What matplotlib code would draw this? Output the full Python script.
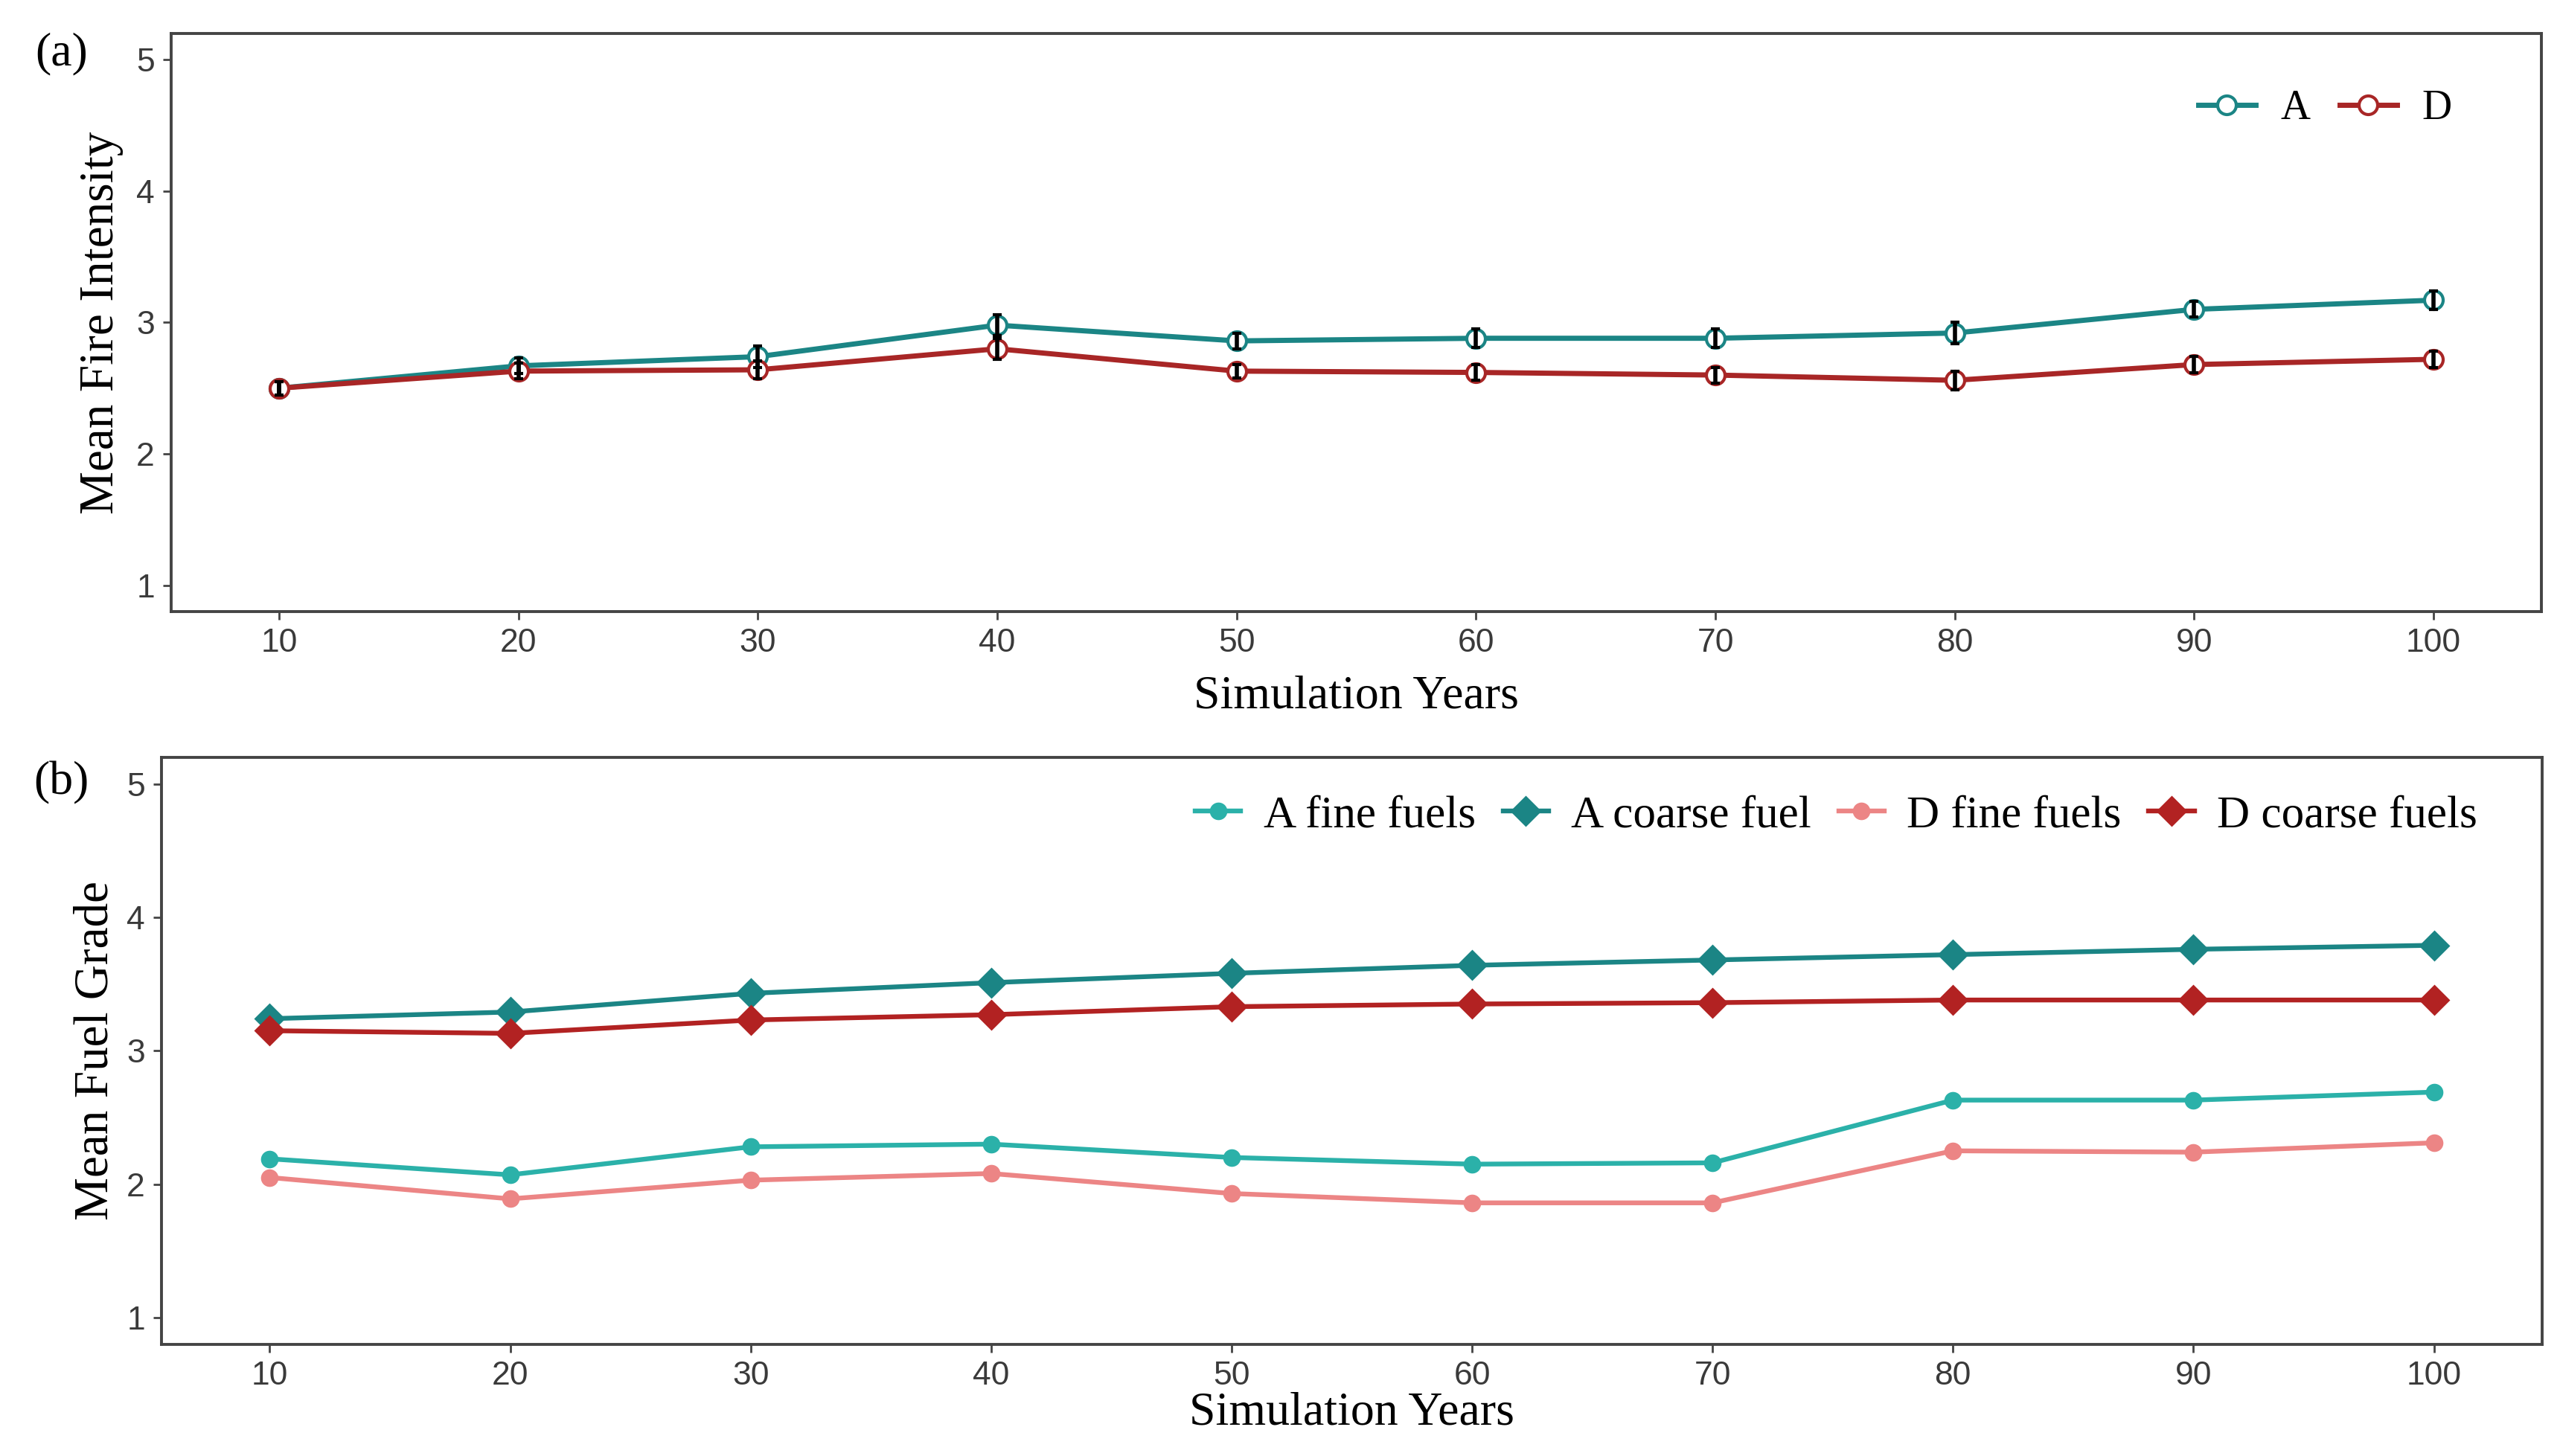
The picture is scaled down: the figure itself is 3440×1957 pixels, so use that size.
import matplotlib.pyplot as plt
import numpy as np

years = [10, 20, 30, 40, 50, 60, 70, 80, 90, 100]

# panel (a): mean fire intensity
fire_A = [2.50, 2.67, 2.74, 2.98, 2.86, 2.88, 2.88, 2.92, 3.10, 3.17]
fire_D = [2.50, 2.63, 2.64, 2.80, 2.63, 2.62, 2.60, 2.56, 2.68, 2.72]
err_A = [0.05, 0.06, 0.08, 0.08, 0.06, 0.07, 0.07, 0.08, 0.06, 0.07]
err_D = [0.05, 0.06, 0.07, 0.08, 0.05, 0.06, 0.06, 0.07, 0.06, 0.06]

# panel (b): mean fuel grade
A_fine = [2.19, 2.07, 2.28, 2.30, 2.20, 2.15, 2.16, 2.63, 2.63, 2.69]
A_coarse = [3.24, 3.29, 3.43, 3.51, 3.58, 3.64, 3.68, 3.72, 3.76, 3.79]
D_fine = [2.05, 1.89, 2.03, 2.08, 1.93, 1.86, 1.86, 2.25, 2.24, 2.31]
D_coarse = [3.15, 3.13, 3.23, 3.27, 3.33, 3.35, 3.36, 3.38, 3.38, 3.38]

teal = "#1b8585"
red = "#a82626"
teal_fine = "#2bb1a9"
red_fine = "#ec8585"
red_coarse = "#b22222"

serif = ["Liberation Serif", "DejaVu Serif"]
narrow = ["Liberation Sans Narrow", "Liberation Sans", "DejaVu Sans"]

fig = plt.figure(figsize=(17.2, 9.785), dpi=200)
ax1 = fig.add_axes([0.0669, 0.580, 0.9258, 0.397])
ax2 = fig.add_axes([0.0631, 0.0767, 0.9299, 0.4033])


def style(ax):
    ax.set_xlim(5.5, 104.5)
    ax.set_ylim(0.8, 5.2)
    ax.set_xticks(years)
    ax.set_yticks([1, 2, 3, 4, 5])
    for s in ax.spines.values():
        s.set_color("#444444")
        s.set_linewidth(1.4)
    ax.tick_params(direction="out", length=4, width=1.0, color="#444444",
                   labelcolor="#3a3a3a", labelsize=16, pad=4)
    for lab in ax.get_xticklabels() + ax.get_yticklabels():
        lab.set_family(narrow)


# (a)
ax1.plot(years, fire_A, color=teal, lw=2.5, marker="o", ms=9,
         mfc="white", mec=teal, mew=1.5, label="A", zorder=3)
ax1.plot(years, fire_D, color=red, lw=2.5, marker="o", ms=9,
         mfc="white", mec=red, mew=1.5, label="D", zorder=3)
ax1.errorbar(years, fire_A, yerr=err_A, fmt="none", ecolor="black",
             elinewidth=2.0, capsize=2, capthick=1.5, zorder=4)
ax1.errorbar(years, fire_D, yerr=err_D, fmt="none", ecolor="black",
             elinewidth=2.0, capsize=2, capthick=1.5, zorder=4)
style(ax1)
ax1.set_xlabel("Simulation Years", family=serif, fontsize=23, labelpad=8)
ax1.set_ylabel("Mean Fire Intensity", family=serif, fontsize=23.5, labelpad=6)
ax1.legend(loc="center right", bbox_to_anchor=(0.978, 0.87), ncol=2,
           frameon=False, prop={"family": serif, "size": 20},
           handlelength=1.4, handletextpad=0.6, columnspacing=0.7)

# (b)
ax2.plot(years, A_fine, color=teal_fine, lw=2.3, marker="o", ms=7.5,
         label="A fine fuels", zorder=3)
ax2.plot(years, A_coarse, color=teal, lw=2.3, marker="D", ms=9.5,
         label="A coarse fuel", zorder=3)
ax2.plot(years, D_fine, color=red_fine, lw=2.3, marker="o", ms=7.5,
         label="D fine fuels", zorder=3)
ax2.plot(years, D_coarse, color=red_coarse, lw=2.3, marker="D", ms=9.5,
         label="D coarse fuels", zorder=3)
style(ax2)
ax2.set_xlabel("Simulation Years", family=serif, fontsize=23, labelpad=0)
ax2.set_ylabel("Mean Fuel Grade", family=serif, fontsize=23.5, labelpad=4)
ax2.legend(loc="center right", bbox_to_anchor=(0.99, 0.9), ncol=4,
           frameon=False, prop={"family": serif, "size": 22},
           handlelength=1.0, handletextpad=0.5, columnspacing=0.6)

fig.text(0.024, 0.963, "(a)", family=serif, fontsize=23, ha="center", va="center")
fig.text(0.024, 0.462, "(b)", family=serif, fontsize=23, ha="center", va="center")

fig.savefig("out.png", dpi=200)
